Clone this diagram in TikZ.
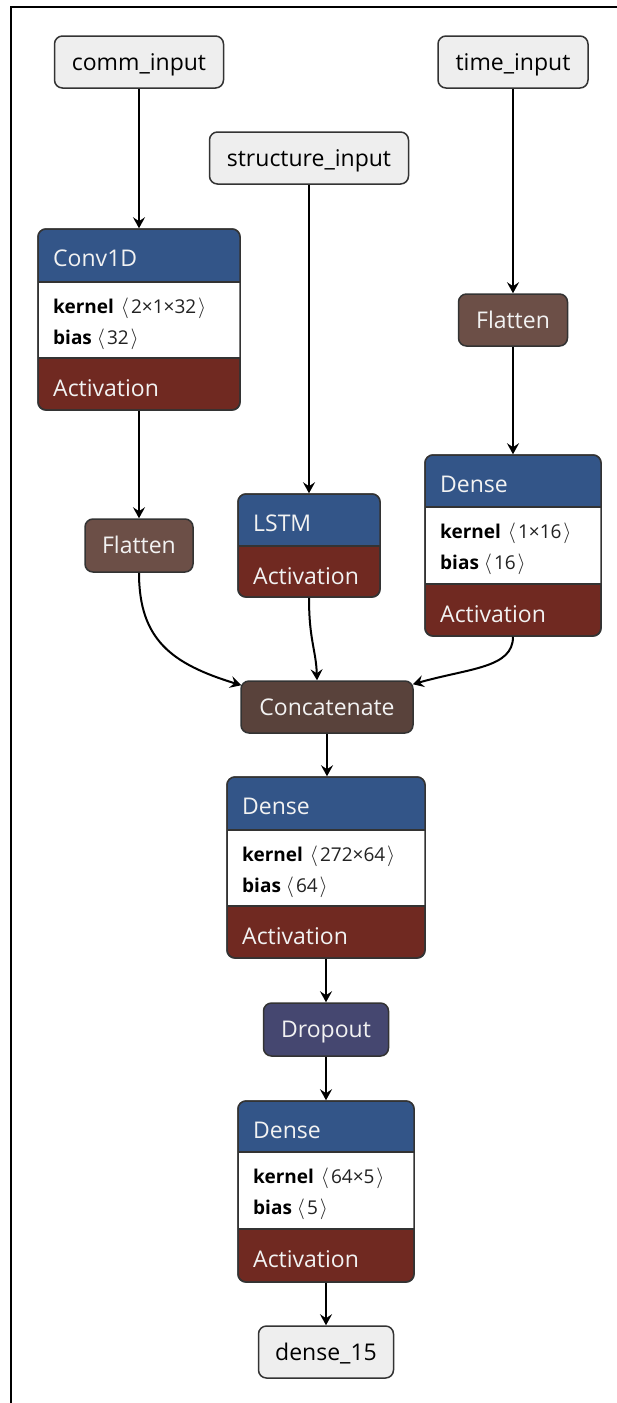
\documentclass[tikz,border=0pt]{standalone}
\usepackage{fontspec}
\setmainfont{Open Sans}
\usetikzlibrary{arrows.meta,calc}
\definecolor{hdr}{HTML}{335588}
\definecolor{act}{HTML}{702921}
\definecolor{shp}{HTML}{6C4F47}
\definecolor{cat}{HTML}{59423B}
\definecolor{drp}{HTML}{454770}
\definecolor{inp}{HTML}{EEEEEE}
\definecolor{brd}{HTML}{333333}
\definecolor{wtxt}{HTML}{F2F2F2}
\definecolor{ptxt}{HTML}{222222}
\newcommand\bigf{\fontsize{23}{27}\selectfont}
\newcommand\smallf{\fontsize{19}{22}\selectfont}
\newcommand\lab{{\fontsize{22}{22}\selectfont$\langle$}}
\newcommand\rab{{\fontsize{22}{22}\selectfont$\rangle$}}
\tikzset{
  box/.style={draw=brd, line width=1.5pt, rounded corners=8pt, inner sep=0pt},
  io/.style={box, fill=inp, text=black, font=\bigf, text height=16.5pt, text depth=0pt},
  op/.style={box, text=wtxt, font=\bigf, text height=16.5pt, text depth=0pt},
  lbl/.style={anchor=base west, inner sep=0pt, text=wtxt, font=\bigf},
  prm/.style={anchor=base west, inner sep=0pt, text=ptxt, font=\smallf},
  edge/.style={line width=2pt, -{Stealth[length=11pt,width=12pt,inset=4pt]}}
}
% #1 name, #2 left, #3 right, #4 top, #5 header bottom, #6 white bottom, #7 bottom, #8 title, #9 params
\newcommand\threepart[9]{%
  \node[box, fill=act, minimum width={(#3-#2)*1pt}, minimum height={(#7-#4)*1pt}] (#1) at ({(#2+#3)/2},{(#4+#7)/2}) {};
  \begin{scope}
    \clip[rounded corners=8pt] (#2,#4) rectangle (#3,#7);
    \fill[hdr] (#2,#4) rectangle (#3,#5);
    \fill[white] (#2,#5) rectangle (#3,#6);
  \end{scope}
  \draw[brd, line width=1.5pt] (#2,#5) -- (#3,#5) (#2,#6) -- (#3,#6);
  \draw[box] (#2,#4) rectangle (#3,#7);
  \node[lbl] (#1-t) at (#2+15,#4+37) {#8};
  #9
  \node[lbl] (#1-a) at (#2+15,#6+38.5) {Activation};
}
\newcommand\prms[5]{% name, left, white top, kernel, bias
  \node[prm] (#1-k) at (#2+15,#3+31) {\textcolor{black}{\textbf{kernel}}\hspace{7pt}\lab\hspace{2pt}#4\hspace{2pt}\rab};
  \node[prm] (#1-b) at (#2+15,#3+62) {\textcolor{black}{\textbf{bias}}\hspace{5pt}\lab\hspace{2pt}#5\hspace{2pt}\rab};
}
\begin{document}
\begin{tikzpicture}[x=1pt,y=-1pt]
\useasboundingbox (0,0) rectangle (617,1403);
\fill[white] (0,0) rectangle (617,1403);
\draw[line width=2pt] (11,1403) -- (11,7.3) -- (617,7.3);

% inputs
\node[io, minimum width=169pt, minimum height=52pt] (comm) at (139,62) {comm\_input};
\node[io, minimum width=199pt, minimum height=52pt] (struct) at (309,158) {structure\_input};
\node[io, minimum width=150pt, minimum height=52pt] (time) at (513,62) {time\_input};

% Conv1D
\threepart{conv}{38}{240}{229}{282}{358}{410}{Conv1D}{\prms{conv}{38}{282}{2×1×32}{32}}
% Flatten (time)
\node[op, fill=shp, minimum width=109pt, minimum height=52pt] (flat2) at (513,320) {Flatten};
% Dense (time)
\threepart{dt}{425}{601}{455}{507}{584}{636}{Dense}{\prms{dt}{425}{507}{1×16}{16}}
% Flatten (comm)
\node[op, fill=shp, minimum width=108pt, minimum height=53pt] (flat1) at (139,545.5) {Flatten};
% LSTM
\node[box, fill=act, minimum width=142pt, minimum height=103pt] (lstm) at (309,545.5) {};
\begin{scope}
  \clip[rounded corners=8pt] (238,494) rectangle (380,597);
  \fill[hdr] (238,494) rectangle (380,546);
\end{scope}
\draw[brd, line width=1.5pt] (238,546) -- (380,546);
\draw[box] (238,494) rectangle (380,597);
\node[lbl] (lstm-t) at (253,531) {LSTM};
\node[lbl] (lstm-a) at (253,584) {Activation};

% Concatenate
\node[op, fill=cat, minimum width=172pt, minimum height=52pt] (concat) at (327,707) {Concatenate};
% Dense 272x64
\threepart{d1}{227}{425}{777}{830}{906}{958}{Dense}{\prms{d1}{227}{830}{272×64}{64}}
% Dropout
\node[op, fill=drp, minimum width=125pt, minimum height=53pt] (drop) at (326,1029.5) {Dropout};
% Dense 64x5
\threepart{d2}{238}{414}{1101}{1152}{1229}{1282}{Dense}{\prms{d2}{238}{1152}{64×5}{5}}
% output
\node[io, minimum width=135pt, minimum height=52pt] (out) at (326,1352) {dense\_15};

% edges
\draw[edge] (comm.south) -- (comm.south |- conv.north);
\draw[edge] (conv.south) -- (conv.south |- flat1.north);
\draw[edge] (struct.south) -- (struct.south |- lstm.north);
\draw[edge] (time.south) -- (time.south |- flat2.north);
\draw[edge] (flat2.south) -- (flat2.south |- dt.north);
\draw[edge] (flat1.south) .. controls (139,640) and (172,664) .. ($(concat.north west)+(1,5)$);
\draw[edge] (lstm.south) .. controls (309,640) and (316,650) .. ($(concat.north)+(-10,0)$);
\draw[edge] (dt.south) .. controls (513,668) and (470,668) .. ($(concat.north east)+(-1,4)$);
\draw[edge] (concat.south) -- (concat.south |- d1.north);
\draw[edge] (d1.south) -- (d1.south |- drop.north);
\draw[edge] (drop.south) -- (drop.south |- d2.north);
\draw[edge] (d2.south) -- (d2.south |- out.north);
\end{tikzpicture}
\end{document}
